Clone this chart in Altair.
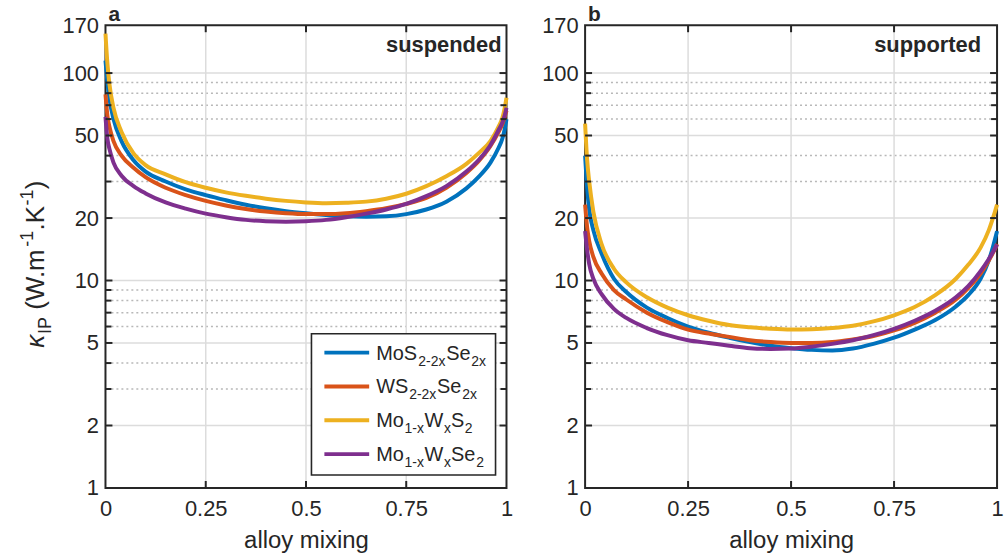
import altair as alt
import pandas as pd

# ---------------- data ----------------
x_mix = [0, 0.005, 0.01, 0.02, 0.04, 0.07, 0.1, 0.15, 0.2, 0.25, 0.3, 0.35, 0.4, 0.45,
         0.5, 0.55, 0.6, 0.65, 0.7, 0.75, 0.8, 0.85, 0.9, 0.93, 0.96, 0.98, 0.99, 0.995, 1]

series_keys = ["MoSSe", "WSSe", "MoWS", "MoWSe"]
series_colors = ["#0072BD", "#D95319", "#EDB120", "#7E2F8E"]

# panel a: suspended
susp_MoSSe = [115, 90, 75, 60, 47, 38, 33.5, 30, 27.5, 25.8, 24.4, 23.2, 22.3, 21.6,
              21.1, 20.7, 20.4, 20.3, 20.4, 20.9, 22.0, 24.0, 27.8, 31.5, 37, 43.5, 48.5, 53, 60]
susp_WSSe = [79, 62, 55, 47, 40, 35, 31.5, 28, 25.8, 24.2, 23.0, 22.1, 21.5, 21.1,
             20.9, 20.9, 21.1, 21.6, 22.3, 23.4, 25.0, 28, 33, 37.5, 44.5, 52, 57, 61, 66]
susp_MoWS = [155, 110, 88, 68, 52, 41, 36, 32.5, 29.8, 28, 26.6, 25.6, 24.8, 24.2,
             23.8, 23.6, 23.7, 24.0, 24.8, 26.2, 28.5, 31.8, 36.5, 41, 47, 55, 61, 67, 76]
susp_MoWSe = [61.5, 48, 43, 37, 32, 28.5, 26.3, 23.8, 22.2, 21.0, 20.2, 19.6, 19.3, 19.2,
              19.3, 19.6, 20.2, 21.0, 22.0, 23.4, 25.5, 28.5, 33.5, 38, 45, 53, 58, 62, 68]

# panel b: supported
supp_MoSSe = [40, 28, 22, 17.5, 13.5, 10.2, 8.8, 7.4, 6.6, 6.0, 5.6, 5.3, 5.05, 4.85,
              4.72, 4.63, 4.6, 4.7, 4.95, 5.3, 5.8, 6.45, 7.5, 8.5, 10.2, 12.5, 14.5, 15.8, 17.3]
supp_WSSe = [23.2, 18, 15.5, 13, 10.8, 9, 8.1, 7.0, 6.3, 5.8, 5.55, 5.35, 5.15, 5.05,
             5.0, 5.0, 5.05, 5.2, 5.4, 5.75, 6.25, 7.0, 8.1, 9.2, 10.8, 12.5, 13.6, 14.2, 15]
supp_MoWS = [57, 38, 30, 21.5, 15, 11.4, 9.8, 8.3, 7.4, 6.8, 6.4, 6.1, 5.95, 5.85,
             5.8, 5.82, 5.9, 6.05, 6.35, 6.8, 7.45, 8.5, 10.2, 11.9, 14.4, 17.5, 20, 21.5, 23.2]
supp_MoWSe = [17.3, 14, 12, 10.2, 8.6, 7.3, 6.6, 5.9, 5.45, 5.15, 5.0, 4.85, 4.72, 4.68,
              4.7, 4.8, 4.95, 5.15, 5.45, 5.85, 6.4, 7.15, 8.3, 9.4, 11.1, 12.7, 13.7, 14.3, 14.9]

y_label_values = [1, 2, 5, 10, 20, 50, 100, 170]
y_major_grid = [2, 5, 10, 20, 50, 100]
y_minor_grid = [3, 4, 6, 7, 8, 9, 30, 40, 60, 70, 80, 90]
x_label_values = [0, 0.25, 0.5, 0.75, 1]
x_major_grid = [0.25, 0.5, 0.75]

legend_labels = [
    [("MoS", 0), ("2-2x", 1), ("Se", 0), ("2x", 1)],
    [("WS", 0), ("2-2x", 1), ("Se", 0), ("2x", 1)],
    [("Mo", 0), ("1-x", 1), ("W", 0), ("x", 1), ("S", 0), ("2", 1)],
    [("Mo", 0), ("1-x", 1), ("W", 0), ("x", 1), ("Se", 0), ("2", 1)],
]
# (text, kind): 0 normal, 1 subscript, 2 superscript ; extra gap after piece
y_title_parts = [("κ", 0, 0), ("IP", 1, 7), ("(W.m", 0, 0), ("-1", 2, 0),
                 (".K", 0, 0), ("-1", 2, 0), (")", 0, 0)]

# ---------------- styling ----------------
FONT = "Liberation Sans, Arial, Helvetica, sans-serif"
INK = "#262626"
H = 465
W_A = 403
W_B = 414

CW = {'M': .833, 'o': .556, 'S': .667, 'e': .556, 'W': .944, '2': .556, '-': .333,
      'x': .5, '1': .556, '.': .278, 'K': .667, ' ': .278, '(': .333, ')': .333,
      'I': .278, 'P': .667, 'm': .833, 'κ': .52}


def tw(s, size):
    return sum(CW.get(c, .556) for c in s) * size


def long_frame(lists):
    rows = []
    for key, vals in zip(series_keys, lists):
        for xv, yv in zip(x_mix, vals):
            rows.append({"x": xv, "v": yv, "s": key})
    return pd.DataFrame(rows)


def text_layer(df, align="left", **kw):
    return alt.Chart(df).mark_text(align=align, baseline="alphabetic", font=FONT,
                                   color=INK, **kw).encode(
        x=alt.X("px:Q", scale=None, axis=None),
        y=alt.Y("py:Q", scale=None, axis=None),
        text="t:N",
        size=alt.Size("fs:Q", scale=None, legend=None),
    )


AX_X = alt.Axis(values=x_label_values, title="alloy mixing", format=".2~f",
                ticks=False, tickSize=0, domain=False, grid=False, labelFlush=False,
                labelPadding=11, titlePadding=9, titleFontSize=24,
                titleFontWeight="normal")
AX_Y = alt.Axis(values=y_label_values, title=None, format="d", ticks=False, tickSize=0,
                domain=False, grid=False, labelPadding=7)


def panel(lists, W, tag, note, note_dx, with_legend, with_ytitle):
    xs = alt.Scale(domain=[0, 1], nice=False, zero=False)
    ys = alt.Scale(type="log", domain=[1, 170], nice=False)
    df = long_frame(lists)
    layers = []

    gy = pd.DataFrame({"g": y_major_grid})
    gm = pd.DataFrame({"g": y_minor_grid})
    gx = pd.DataFrame({"g": x_major_grid})

    def Y(f):
        return alt.Y(f, scale=ys, axis=AX_Y)

    def X(f):
        return alt.X(f, scale=xs, axis=AX_X)

    layers.append(alt.Chart(gy).mark_rule(color="#dcdcdc", strokeWidth=1.5).encode(
        y=Y("g:Q"), x=alt.value(1), x2=alt.value(W - 1)))
    layers.append(alt.Chart(gm).mark_rule(color="#b8b8b8", strokeWidth=1.5, strokeDash=[2, 3]).encode(
        y=Y("g:Q"), x=alt.value(1), x2=alt.value(W - 1)))
    layers.append(alt.Chart(gx).mark_rule(color="#dcdcdc", strokeWidth=1.5).encode(
        x=X("g:Q"), y=alt.value(1), y2=alt.value(H - 1)))

    for key, col in zip(series_keys, series_colors):
        layers.append(alt.Chart(df).transform_filter(alt.datum.s == key).mark_line(
            color=col, strokeWidth=4, interpolate="monotone").encode(x=X("x:Q"), y=Y("v:Q")))

    # inward ticks on all four sides
    for src, ln in ((gy, 7), (gm, 6)):
        layers.append(alt.Chart(src).mark_rule(color=INK, strokeWidth=2).encode(
            y=Y("g:Q"), x=alt.value(0), x2=alt.value(ln)))
        layers.append(alt.Chart(src).mark_rule(color=INK, strokeWidth=2).encode(
            y=Y("g:Q"), x=alt.value(W - ln), x2=alt.value(W)))
    layers.append(alt.Chart(gx).mark_rule(color=INK, strokeWidth=2).encode(
        x=X("g:Q"), y=alt.value(0), y2=alt.value(7)))
    layers.append(alt.Chart(gx).mark_rule(color=INK, strokeWidth=2).encode(
        x=X("g:Q"), y=alt.value(H - 7), y2=alt.value(H)))

    # panel tag and condition note
    layers.append(text_layer(pd.DataFrame({"px": [3], "py": [-4], "t": [tag], "fs": [21]}),
                             fontWeight="bold"))
    layers.append(text_layer(pd.DataFrame({"px": [W - note_dx], "py": [27], "t": [note],
                                           "fs": [22]}), align="right", fontWeight="bold"))

    if with_legend:
        bx0, bx1, by0, by1 = 207, 392, 310, 452
        box = pd.DataFrame({"a": [bx0], "b": [bx1], "c": [by0], "d": [by1]})
        layers.append(alt.Chart(box).mark_rect(fill="white", stroke=INK, strokeWidth=1.6).encode(
            x=alt.X("a:Q", scale=None, axis=None), x2="b:Q",
            y=alt.Y("c:Q", scale=None, axis=None), y2="d:Q"))
        row_y = [by0 + 19 + 34 * k for k in range(4)]
        lg = pd.DataFrame({"px": [bx0 + 13] * 4, "px2": [bx0 + 58] * 4, "py": row_y,
                           "c": series_colors})
        layers.append(alt.Chart(lg).mark_rule(strokeWidth=4).encode(
            x=alt.X("px:Q", scale=None, axis=None), x2="px2:Q",
            y=alt.Y("py:Q", scale=None, axis=None),
            color=alt.Color("c:N", scale=None, legend=None)))
        rows = []
        for k, parts in enumerate(legend_labels):
            cx = bx0 + 65
            for txt, sub in parts:
                fs = 14 if sub else 20
                rows.append({"px": cx, "py": row_y[k] + (13 if sub else 7), "t": txt, "fs": fs})
                cx += tw(txt, fs) * 1.03
        layers.append(text_layer(pd.DataFrame(rows)))

    if with_ytitle:
        rows_n, rows_i = [], []
        cy = 324
        xb = -62
        for txt, kind, gap in y_title_parts:
            fs = 26 if kind == 0 else 18
            dx = 0 if kind == 0 else (7 if kind == 1 else -11)
            row = {"px": xb + dx, "py": cy, "t": txt, "fs": fs}
            (rows_i if txt == "κ" else rows_n).append(row)
            cy -= tw(txt, fs) * 1.02 + gap
        layers.append(text_layer(pd.DataFrame(rows_n), angle=270))
        layers.append(text_layer(pd.DataFrame(rows_i), angle=270, fontStyle="italic"))

    return alt.layer(*layers).properties(width=W, height=H)


pa = panel([susp_MoSSe, susp_WSSe, susp_MoWS, susp_MoWSe], W_A, "a", "suspended", 5, True, True)
pb = panel([supp_MoSSe, supp_WSSe, supp_MoWS, supp_MoWSe], W_B, "b", "supported", 16, False, False)

chart = alt.hconcat(pa, pb, spacing=79, bounds="flush").properties(
    padding={"left": 17, "top": 2, "right": 2, "bottom": 2}
).configure(font=FONT).configure_view(stroke=INK, strokeWidth=2).configure_axis(
    labelFont=FONT, labelFontSize=22, labelColor=INK, titleFont=FONT, titleColor=INK
)

chart.save("out.html", embed_options={"renderer": "svg", "actions": False})
